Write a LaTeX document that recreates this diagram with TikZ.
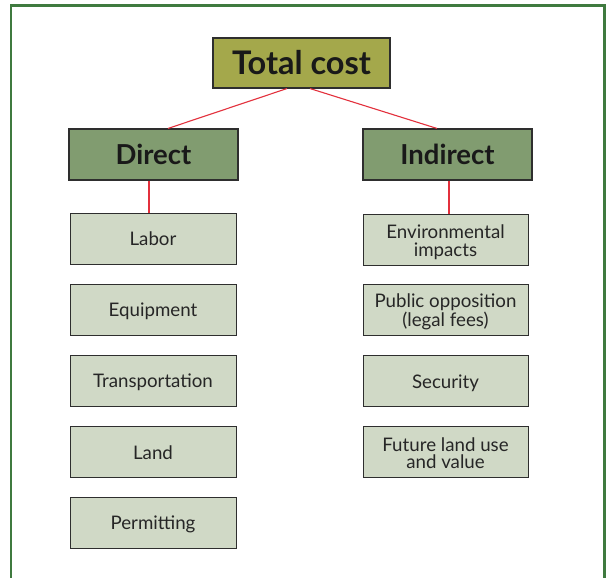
\documentclass[tikz,border=0pt]{standalone}
\usepackage{fontspec}
\setmainfont{Lato}
\definecolor{frame}{HTML}{3F7A3F}
\definecolor{topfill}{HTML}{A4A84B}
\definecolor{midfill}{HTML}{819C70}
\definecolor{leaffill}{HTML}{D0D9C6}
\definecolor{edge}{HTML}{2E2E2E}
\definecolor{link}{HTML}{E3303C}
\tikzset{
  topbox/.style={draw=edge, line width=1.1pt, fill=topfill, minimum width=177pt, minimum height=50pt, inner sep=0pt, font=\fontsize{32.5}{33}\selectfont\bfseries, text=black!90},
  midbox/.style={draw=edge, line width=1.1pt, fill=midfill, minimum width=169pt, minimum height=51pt, inner sep=0pt, font=\fontsize{27.5}{28}\selectfont\bfseries, text=black!90},
  leafbox/.style={draw=edge, line width=1pt, fill=leaffill, minimum width=166pt, minimum height=51pt, inner sep=0pt, align=center, font=\fontsize{18.7}{17.5}\selectfont, text=black!85, text height=16pt, text depth=2pt},
  twoline/.style={minimum width=165pt, text height=35.4pt, text depth=2pt},
  oneright/.style={minimum width=165pt},
  linkline/.style={draw=link, line width=1.1pt}
}
\begin{document}
\begin{tikzpicture}[x=1pt,y=-1pt]
\useasboundingbox (0,0) rectangle (606,578);
\fill[white] (0,0) rectangle (606,578);
% frame
\draw[frame, line width=2.6pt] (11,578) -- (11,5.5) -- (604.5,5.5) -- (604.5,578);
% nodes
\node[topbox] (total) at (301.5,63) {Total cost};
\node[midbox] (direct) at (153.5,154.5) {Direct};
\node[midbox] (indirect) at (447.5,154.5) {Indirect};
\node[leafbox] (labor) at (153,238.5) {Labor};
\node[leafbox] (equip) at (153,309.5) {Equipment};
\node[leafbox] (trans) at (153,380.5) {Transportation};
\node[leafbox] (land) at (153,452) {Land};
\node[leafbox] (permit) at (153,522.5) {Permitting};
\node[leafbox, twoline] (env) at (445.5,239.5) {Environmental\\impacts};
\node[leafbox, twoline] (public) at (445.5,310) {Public opposition\\(legal fees)};
\node[leafbox, oneright] (security) at (445.5,381) {Security};
\node[leafbox, twoline] (future) at (445.5,452) {Future land use\\and value};
% connectors
\draw[linkline] ([xshift=-14.5pt]total.south) -- ([xshift=14.5pt]direct.north);
\draw[linkline] ([xshift=8.5pt]total.south) -- ([xshift=-10.5pt]indirect.north);
\draw[linkline] ([xshift=-4.5pt]direct.south) -- ([xshift=-4pt]labor.north);
\draw[linkline] ([xshift=1.5pt]indirect.south) -- ([xshift=3.5pt]env.north);
\end{tikzpicture}
\end{document}
